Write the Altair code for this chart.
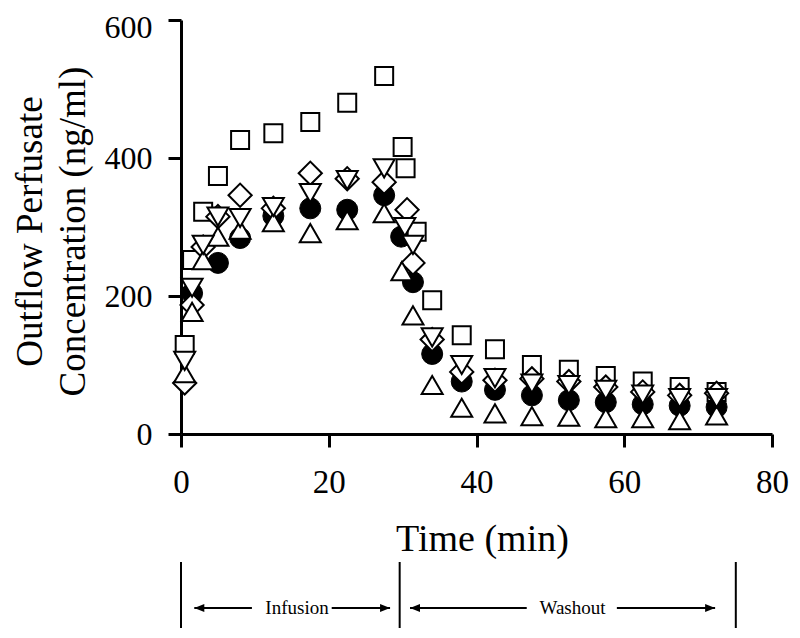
import altair as alt
import pandas as pd

# ---- data ----
circle_t = [1.5, 5, 8, 12.5, 17.5, 22.5, 27.5, 29.8, 31.4, 34, 38, 42.5, 47.5, 52.5, 57.5, 62.5, 67.5, 72.5]
circle_v = [204, 248, 284, 316, 327, 325, 346, 286, 220, 116, 76, 64, 56, 49, 46, 43, 41, 39]

square_t = [0.5, 1.5, 3, 5, 8, 12.5, 17.5, 22.5, 27.5, 30, 30.4, 31.9, 34, 38, 42.5, 47.5, 52.5, 57.5, 62.5, 67.5, 72.5]
square_v = [129, 252, 322, 374, 426, 436, 452, 480, 519, 416, 385, 293, 194, 143, 123, 100, 93, 84, 76, 68, 61]

diamond_t = [0.5, 1.5, 3, 5, 8, 12.5, 17.5, 22.5, 27.5, 30.6, 31.4, 34, 38, 42.5, 47.5, 52.5, 57.5, 62.5, 67.5, 72.5]
diamond_v = [74, 187, 271, 315, 346, 327, 378, 370, 365, 325, 248, 137, 90, 78, 80, 76, 68, 61, 56, 59]

triup_t = [0.5, 1.5, 3, 5, 8, 12.5, 17.5, 22.5, 27.5, 29.9, 31.4, 34, 38, 42.5, 47.5, 52.5, 57.5, 62.5, 67.5, 72.5]
triup_v = [88, 177, 252, 286, 296, 307, 291, 310, 320, 236, 172, 71, 38, 30, 26, 25, 23, 23, 20, 27]

tridown_t = [0.5, 1.5, 3, 5, 8, 12.5, 17.5, 22.5, 27.5, 30.3, 31.4, 34, 38, 42.5, 47.5, 52.5, 57.5, 62.5, 67.5, 72.5]
tridown_v = [106, 212, 274, 315, 313, 329, 349, 368, 385, 300, 274, 140, 100, 81, 73, 71, 64, 57, 52, 52]

x_ticks = [0, 20, 40, 60, 80]
y_ticks = [0, 200, 400, 600]

phase_bounds = [0, 29.6, 75.1]
phase_labels = ["Infusion", "Washout"]
phase_label_t = [15.7, 53.0]
arrow_start = [9.6, 20.4, 46.8, 59.0]
arrow_end = [1.8, 28.3, 31.0, 72.3]
arrow_dir = ["left", "right", "left", "right"]

FONT = "Liberation Serif"

x_scale = alt.Scale(domain=[0, 80], nice=False, zero=False)
y_scale = alt.Scale(domain=[0, 600], nice=False)

x_axis = alt.Axis(
    values=x_ticks, grid=False, domainColor="black", domainWidth=3,
    tickColor="black", tickWidth=3, tickSize=13,
    labelFont=FONT, labelFontSize=33, labelColor="black", labelPadding=19,
    labelFlush=False, labelOverlap=False,
    title="Time (min)", titleFont=FONT, titleFontSize=38, titleFontWeight="normal",
    titleColor="black", titleX=301, titleY=116, titleAlign="center",
    titleBaseline="alphabetic",
)
y_axis = alt.Axis(
    values=y_ticks, grid=False, domainColor="black", domainWidth=3,
    tickColor="black", tickWidth=3, tickSize=13,
    labelFont=FONT, labelFontSize=32, labelColor="black", labelPadding=16,
    labelOffset={"condition": {"test": "datum.value == 600", "value": 7}, "value": 0},
    labelFlush=False, labelOverlap=False,
    title=["Outflow Perfusate", "Concentration (ng/ml)"], titleFont=FONT,
    titleFontSize=37, titleFontWeight="normal", titleColor="black",
    titleLineHeight=43, titleAngle=270, titleX=-140, titleY=211,
    titleAlign="center", titleBaseline="alphabetic",
)


def X(field):
    return alt.X(field, type="quantitative", scale=x_scale, axis=x_axis)


def series(t, v, shape, size, filled):
    df = pd.DataFrame({"t": t, "v": v})
    mark = alt.Chart(df).mark_point(
        shape=shape, size=size, filled=True,
        fill="black" if filled else "white",
        stroke="black", strokeWidth=1 if filled else 2, opacity=1,
    )
    return mark.encode(
        x=X("t"),
        y=alt.Y("v:Q", scale=y_scale, axis=y_axis),
    )


circles = series(circle_t, circle_v, "circle", 441, True)
squares = series(square_t, square_v, "square", 324, False)
diamonds = series(diamond_t, diamond_v, "diamond", 540, False)
triups = series(triup_t, triup_v, "triangle-up", 441, False)
tridowns = series(tridown_t, tridown_v, "triangle-down", 441, False)

bounds = alt.Chart(pd.DataFrame({"t": phase_bounds})).mark_rule(
    color="black", strokeWidth=2
).encode(x=X("t"), y=alt.value(542), y2=alt.value(608))

shafts = alt.Chart(pd.DataFrame({"t0": arrow_start, "t1": arrow_end})).mark_rule(
    color="black", strokeWidth=2
).encode(x=X("t0"), x2="t1:Q", y=alt.value(588))

heads = alt.Chart(pd.DataFrame({"t": arrow_end, "dir": arrow_dir})).mark_point(
    filled=True, color="black", size=100, opacity=1
).encode(
    x=X("t"), y=alt.value(588),
    shape=alt.Shape("dir:N", scale=alt.Scale(
        domain=["left", "right"],
        range=["M0,0L2,-0.8L2,0.8Z", "M0,0L-2,-0.8L-2,0.8Z"]), legend=None),
)

labels = alt.Chart(pd.DataFrame({"t": phase_label_t, "label": phase_labels})).mark_text(
    font=FONT, fontSize=19, color="black", align="center", baseline="middle"
).encode(x=X("t"), y=alt.value(588), text="label:N")

chart = alt.layer(
    bounds, shafts, heads, labels, circles, squares, diamonds, triups, tridowns
).properties(
    width=591, height=414,
    autosize=alt.AutoSizeParams(type="none"),
    padding={"left": 173, "top": 12, "right": 19, "bottom": 196},
    background="white",
).configure_view(strokeWidth=0)

chart.save("out.html", embed_options={"renderer": "svg", "actions": False})
